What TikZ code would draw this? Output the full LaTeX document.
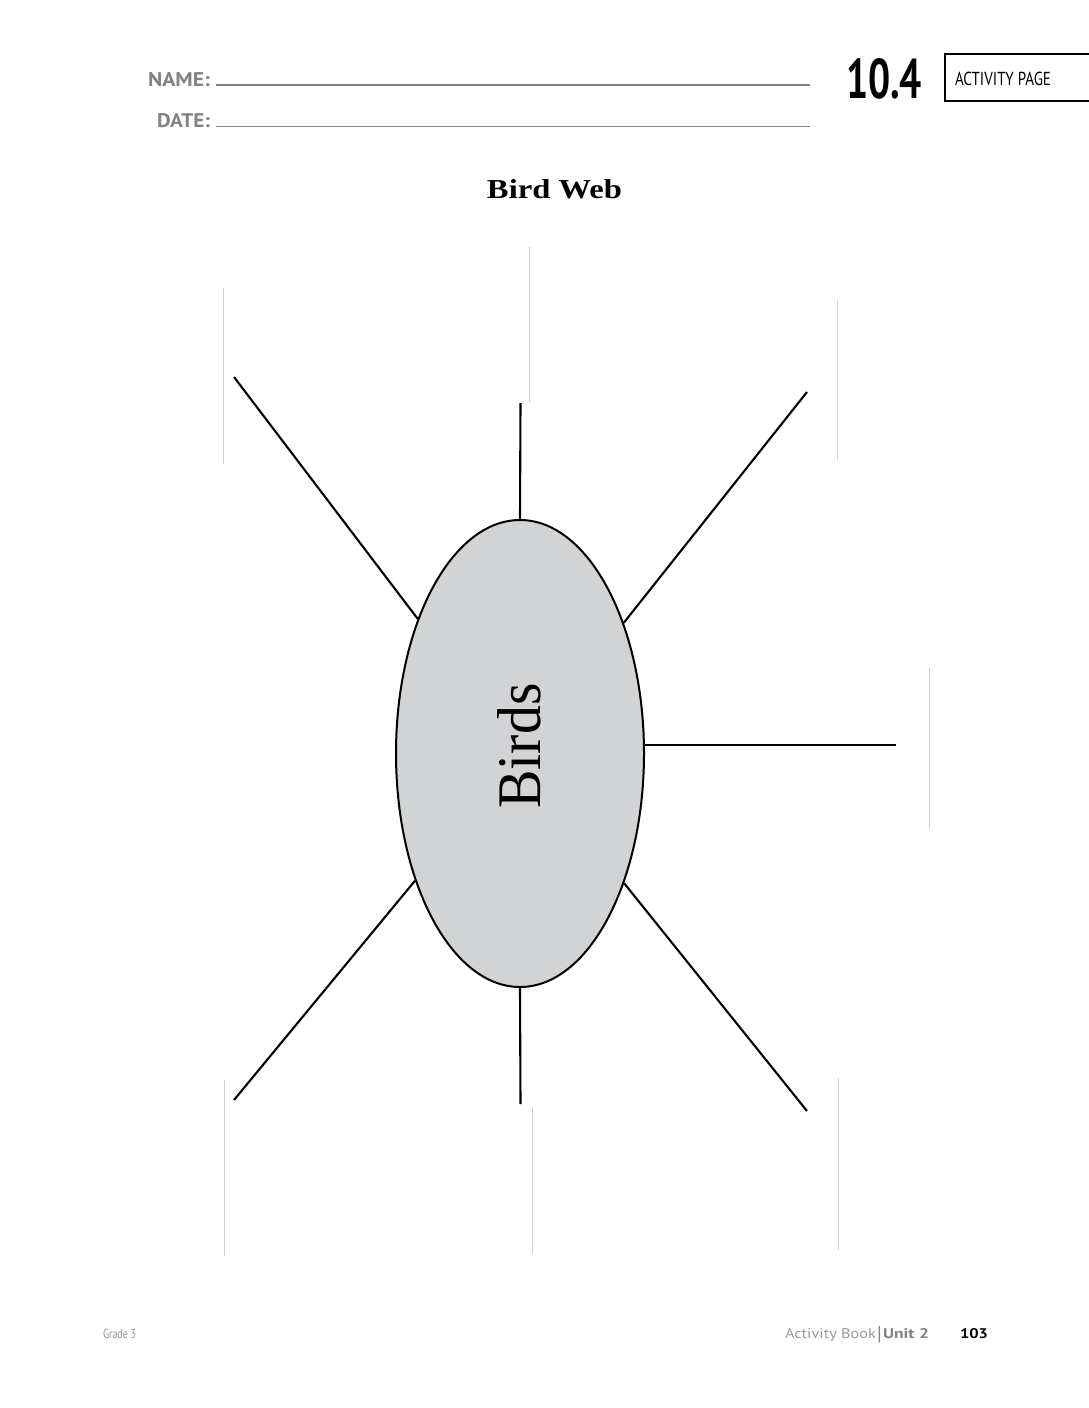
\documentclass[tikz,border=0pt]{standalone}
\usepackage{fontspec}
\setmainfont{Liberation Serif}
\newfontfamily\hdrfont{PT Sans}
\usetikzlibrary{shapes.geometric}
\definecolor{hdrgray}{RGB}{128,130,133}
\definecolor{footgray}{RGB}{150,152,155}
\definecolor{faint}{RGB}{208,208,208}
\definecolor{ovalfill}{RGB}{209,211,212}
\begin{document}
\begin{tikzpicture}[x=0.5pt,y=-0.5pt,
  spoke/.style={line width=1.05pt, black},
  faintline/.style={line width=0.5pt, faint},
  plain/.style={inner sep=0pt, outer sep=0pt},
  ruleline/.style={line width=0.85pt, hdrgray}]
\useasboundingbox[fill=white] (0,0) rectangle (1088,1408);

% header
\node[plain, anchor=base east, text=hdrgray] (name) at (210,86) {\resizebox{31pt}{7pt}{\hdrfont\bfseries NAME:}};
\node[plain, anchor=base east, text=hdrgray] (date) at (210,127) {\resizebox{26.5pt}{7pt}{\hdrfont\bfseries DATE:}};
\coordinate (nameA) at (216,85);
\coordinate (nameB) at (810,85);
\coordinate (dateA) at (216,126.5);
\coordinate (dateB) at (810,126.5);
\draw[ruleline] (nameA) -- (nameB);
\draw[ruleline] (dateA) -- (dateB);

\node[plain, anchor=base east] (num) at (922,98) {\resizebox{38pt}{20pt}{\hdrfont\bfseries 10.4}};
\draw[line width=1pt] (945,54) rectangle (1100,101);
\node[plain, anchor=base west] (ap) at (955,85) {\resizebox{48pt}{6.7pt}{\hdrfont ACTIVITY PAGE}};

% title
\node[plain, anchor=base] (title) at (554.5,198) {\resizebox{67.5pt}{9.5pt}{\bfseries Bird Web}};

% faint lines
\draw[faintline] (223,288) -- (223,464);
\draw[faintline] (529.5,247) -- (529.5,403);
\draw[faintline] (837,300) -- (837,460);
\draw[faintline] (929,668) -- (929,829);
\draw[faintline] (224,1080) -- (224,1256);
\draw[faintline] (532,1108) -- (532,1254);
\draw[faintline] (838,1078) -- (838,1250);

% central oval
\node[ellipse, draw, line width=1pt, fill=ovalfill, minimum width=124pt, minimum height=233.5pt, inner sep=0pt] (E) at (520,753.5) {};
\node[plain, rotate=90] (lbl) at (519,746) {\resizebox{62.5pt}{21.5pt}{Birds}};

% spokes
\coordinate (t) at (520.5,403);
\coordinate (ul) at (234,377);
\coordinate (ur) at (807,392);
\coordinate (r) at (896,745);
\coordinate (ll) at (234,1100);
\coordinate (b) at (520.5,1104);
\coordinate (lr) at (807,1111);
\draw[spoke] (t) -- (E.north);
\draw[spoke] (ul) -- (E);
\draw[spoke] (ur) -- (E);
\draw[spoke] (r) -- (r -| E.east);
\draw[spoke] (ll) -- (E);
\draw[spoke] (b) -- (E.south);
\draw[spoke] (lr) -- (E);

% footer
\node[plain, anchor=base west, text=footgray] (grade) at (103,1338) {\resizebox{16.5pt}{4.6pt}{\hdrfont Grade 3}};
\node[plain, anchor=base east, text=footgray] (ab) at (876,1338) {\resizebox{45.5pt}{5pt}{\hdrfont Activity Book}};
\node[plain, anchor=base, text=hdrgray] (bar) at (879.5,1340) {\resizebox{!}{7pt}{\hdrfont |}};
\node[plain, anchor=base west, text=hdrgray] (unit) at (883,1338) {\resizebox{23pt}{5pt}{\hdrfont\bfseries Unit 2}};
\node[plain, anchor=base east] (page) at (988,1338) {\resizebox{14pt}{5pt}{\hdrfont\bfseries 103}};
\end{tikzpicture}
\end{document}
